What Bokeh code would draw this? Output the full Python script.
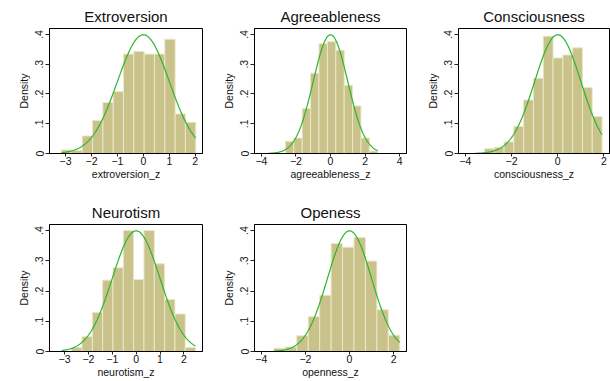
import numpy as np
from bokeh.plotting import figure
from bokeh.layouts import gridplot
from bokeh.models import FixedTicker, CustomJSTickFormatter, Range1d
from bokeh.embed import file_html
from bokeh.resources import INLINE

# ---------------- data ----------------
titles = ["Extroversion", "Agreeableness", "Consciousness", "Neurotism", "Openess"]
xlabels = ["extroversion_z", "agreeableness_z", "consciousness_z", "neurotism_z", "openness_z"]

# histogram: first bin edge, bin width, densities
extro_start, extro_width = -3.154, 0.398
extro_dens = [0.012, 0.010, 0.059, 0.111, 0.171, 0.208, 0.334, 0.343, 0.334, 0.334, 0.384, 0.133, 0.105]

agree_start, agree_width = -2.61, 0.486
agree_dens = [0.041, 0.052, 0.151, 0.270, 0.369, 0.376, 0.347, 0.229, 0.160, 0.052, 0.008]

consc_start, consc_width = -3.176, 0.4245
consc_dens = [0.016, 0.021, 0.039, 0.091, 0.180, 0.253, 0.394, 0.321, 0.331, 0.355, 0.222, 0.124]

neuro_start, neuro_width = -2.70, 0.4325
neuro_dens = [0.013, 0.049, 0.129, 0.236, 0.277, 0.400, 0.238, 0.400, 0.290, 0.172, 0.124, 0.013]

open_start, open_width = -3.43, 0.519
open_dens = [0.011, 0.015, 0.052, 0.115, 0.186, 0.357, 0.345, 0.377, 0.299, 0.138, 0.054]

# normal overlay: mean, sd and drawn range of each curve
norm_mean = [0.0, 0.0, 0.0, 0.0, 0.0]
norm_sd = [1.0, 1.0, 1.0, 1.0, 1.0]
curve_lo = [-3.154, -3.65, -3.58, -3.12, -3.43]
curve_hi = [2.02, 2.73, 1.918, 2.49, 2.28]

# axis ranges and ticks
x_lo = [-3.62, -4.40, -4.30, -3.63, -4.31]
x_hi = [2.28, 4.40, 2.24, 2.78, 2.585]
x_ticks = [[-3, -2, -1, 0, 1, 2], [-4, -2, 0, 2, 4], [-4, -2, 0, 2], [-3, -2, -1, 0, 1, 2], [-4, -2, 0, 2]]
y_ticks = [0, 0.1, 0.2, 0.3, 0.4]
y_top = 0.42

starts = [extro_start, agree_start, consc_start, neuro_start, open_start]
widths = [extro_width, agree_width, consc_width, neuro_width, open_width]
dens = [extro_dens, agree_dens, consc_dens, neuro_dens, open_dens]

# ---------------- styling / layout ----------------
FONT = "Liberation Sans"
BAR_FILL = "#c9c28a"
BAR_LINE = "#ebe7c8"
CURVE = "#2db52d"
TXT = "#111111"

col_w = [205, 205, 200]
col_left = [49, 49, 48]
col_right = [3, 4, 1]
row_h = [196, 185]
row_top = [28, 28]
row_bottom = [43, 30]

yfmt_code = "return tick === 0 ? '0' : tick.toFixed(1).replace(/^0/, '');"


def make_panel(i, col, row):
    p = figure(width=col_w[col], height=row_h[row], output_backend="svg",
               toolbar_location=None, tools="",
               x_range=Range1d(x_lo[i], x_hi[i]), y_range=Range1d(0, y_top),
               min_border_left=col_left[col], min_border_right=col_right[col],
               min_border_top=row_top[row], min_border_bottom=row_bottom[row])
    p.title.text = titles[i]
    p.title.align = "center"
    p.title.text_font = FONT
    p.title.text_font_size = "15px"
    p.title.text_font_style = "normal"
    p.title.text_color = TXT
    p.title.standoff = 7

    edges = [starts[i] + k * widths[i] for k in range(len(dens[i]) + 1)]
    p.quad(left=edges[:-1], right=edges[1:], bottom=0, top=dens[i],
           fill_color=BAR_FILL, line_color=BAR_LINE, line_width=1)

    xs = np.linspace(curve_lo[i], curve_hi[i], 300)
    ys = np.exp(-0.5 * ((xs - norm_mean[i]) / norm_sd[i]) ** 2) / (norm_sd[i] * np.sqrt(2 * np.pi))
    p.line(xs, ys, line_color=CURVE, line_width=1.2)

    p.xgrid.visible = False
    p.ygrid.visible = False
    p.background_fill_color = "white"
    p.border_fill_color = "white"
    p.outline_line_color = "black"
    p.outline_line_width = 1

    p.xaxis.ticker = FixedTicker(ticks=x_ticks[i])
    p.yaxis.ticker = FixedTicker(ticks=y_ticks)
    p.yaxis.formatter = CustomJSTickFormatter(code=yfmt_code)
    p.yaxis.major_label_orientation = "vertical"
    p.xaxis.axis_label = xlabels[i]
    p.yaxis.axis_label = "Density"
    for ax in (p.xaxis, p.yaxis):
        ax.axis_line_color = "black"
        ax.major_tick_line_color = "#222222"
        ax.major_tick_out = 4
        ax.major_tick_in = 0
        ax.minor_tick_line_color = None
        ax.major_label_text_font = FONT
        ax.major_label_text_font_size = "10.5px"
        ax.major_label_text_color = TXT
        ax.major_label_standoff = 2
        ax.axis_label_text_font = FONT
        ax.axis_label_text_font_size = "10.5px"
        ax.axis_label_text_font_style = "normal"
        ax.axis_label_text_color = TXT
        ax.axis_label_standoff = 3
    p.xaxis.major_tick_out = 3
    p.xaxis.major_label_standoff = 0
    p.xaxis.axis_label_standoff = 0
    return p


p1 = make_panel(0, 0, 0)
p2 = make_panel(1, 1, 0)
p3 = make_panel(2, 2, 0)
p4 = make_panel(3, 0, 1)
p5 = make_panel(4, 1, 1)

grid = gridplot([[p1, p2, p3], [p4, p5, None]], toolbar_location=None)

open("out.html", "w").write(file_html(grid, INLINE))
